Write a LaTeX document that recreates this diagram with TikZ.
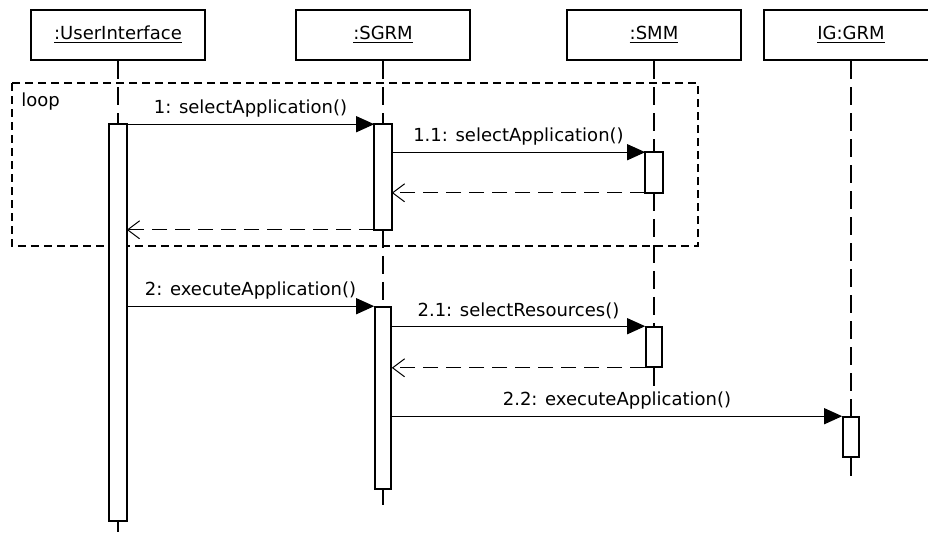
\documentclass[tikz,border=0pt]{standalone}
\usepackage{fontspec}
\setmainfont{DejaVu Sans}
\usepackage{tikz}
\usetikzlibrary{arrows.meta,shapes}

\begin{document}
\begin{tikzpicture}[x=0.5pt, y=-0.5pt,
  font=\fontsize{9}{11}\selectfont,
  objbox/.style={draw, line width=1.2pt, minimum width=87pt, minimum height=25pt, inner sep=0pt},
  actbar/.style={draw, fill=white, line width=0.8pt, minimum width=8pt, inner sep=0pt},
  lifeline/.style={line width=0.8pt, dash pattern=on 9pt off 4pt},
  call/.style={line width=0.6pt, -{Triangle[length=9pt,width=8pt]}},
  reply/.style={line width=0.5pt, dash pattern=on 7.5pt off 4pt, -{Straight Barb[length=6pt,width=9pt]}},
  msg/.style={midway, above}]

\useasboundingbox (0,0) rectangle (928,532);

% objects
\node[objbox] (ui) at (118,35) {\underline{:UserInterface}};
\node[objbox] (sgrm) at (383,35) {\underline{:SGRM}};
\node[objbox] (smm) at (654,35) {\underline{:SMM}};
\node[objbox] (grm) at (851,35) {\underline{IG:GRM}};

% activations
\node[actbar, minimum height=197.5pt] (uiAct) at (118,322.5) {};
\node[actbar, minimum height=52pt] (sgrmActA) at (383,177) {};
\node[actbar, minimum height=19.5pt] (smmActA) at (654,172.5) {};
\node[actbar, minimum height=91pt] (sgrmActB) at (383,398) {};
\node[actbar, minimum height=20pt] (smmActB) at (654,347) {};
\node[actbar, minimum height=20pt] (grmAct) at (851,437) {};

\coordinate (uiEnd) at (118,532);
\coordinate (sgrmEnd) at (383,505);
\coordinate (smmEnd) at (654,392);
\coordinate (grmEnd) at (851,477);

% lifelines
\draw[lifeline] (ui.south) -- (uiAct.north);
\draw[lifeline] (uiAct.south) -- (uiEnd);
\draw[lifeline] (sgrm.south) -- (sgrmActA.north);
\draw[lifeline] (sgrmActA.south) -- (sgrmActB.north);
\draw[lifeline] (sgrmActB.south) -- (sgrmEnd);
\draw[lifeline] (smm.south) -- (smmActA.north);
\draw[lifeline] (smmActA.south) -- (smmActB.north);
\draw[lifeline] (smmActB.south) -- (smmEnd);
\draw[lifeline] (grm.south) -- (grmAct.north);
\draw[lifeline] (grmAct.south) -- (grmEnd);

% loop frame
\draw[line width=0.75pt, dash pattern=on 4pt off 2.5pt] (12,83) rectangle (698,246);
\node[anchor=west, inner sep=0pt] (loop) at (21,102) {loop};

% bars sit above the frame
\foreach \bar in {uiAct,sgrmActA,smmActA}
  \draw[line width=0.8pt, fill=white] (\bar.north west) rectangle (\bar.south east);

% messages
\draw[call] (uiAct.east |- sgrmActA.north) -- (sgrmActA.north west) node[msg] {1: selectApplication()};
\draw[call] (sgrmActA.east |- smmActA.north) -- (smmActA.north west) node[msg] {1.1: selectApplication()};
\draw[reply] (smmActA.south west) -- (sgrmActA.east |- smmActA.south);
\draw[reply] (sgrmActA.south west) -- (uiAct.east |- sgrmActA.south);

\draw[call] (uiAct.east |- sgrmActB.north) -- (sgrmActB.north west) node[msg] {2: executeApplication()};
\draw[call] (sgrmActB.east |- smmActB.north) -- (smmActB.north west) node[msg] {2.1: selectResources()};
\draw[reply] (smmActB.south west) -- (sgrmActB.east |- smmActB.south);
\draw[call] (sgrmActB.east |- grmAct.north) -- (grmAct.north west) node[msg] {2.2: executeApplication()};

\end{tikzpicture}
\end{document}
